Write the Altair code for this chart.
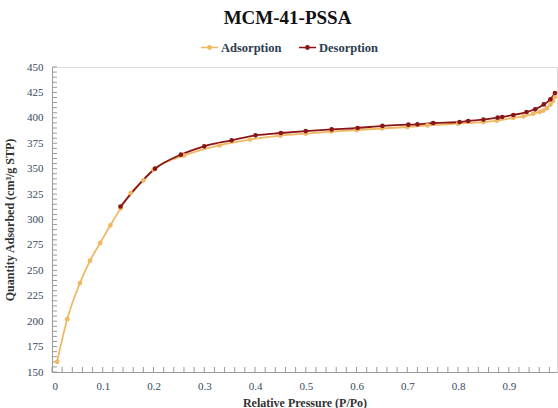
import altair as alt
import pandas as pd

ads_p = [0.01, 0.03, 0.055, 0.075, 0.095, 0.115, 0.135, 0.155, 0.18, 0.2, 0.26, 0.33, 0.39,
         0.45, 0.5, 0.55, 0.6, 0.65, 0.7, 0.74, 0.8, 0.85, 0.876, 0.909, 0.929, 0.948,
         0.961, 0.968, 0.975, 0.982, 0.987, 0.991]
ads_q = [160, 202, 237.5, 259.6, 277, 294.3, 310.7, 326, 338.5, 349, 363, 373, 378.6,
         382.5, 384.5, 386.5, 388, 389.5, 391, 392.5, 394.3, 395.8, 397.2, 400, 401.5, 404,
         405.8, 407, 409.5, 413, 416.5, 420.5]

des_p = [0.135, 0.203, 0.254, 0.30, 0.354, 0.401, 0.451, 0.50, 0.551, 0.602, 0.651, 0.702,
         0.72, 0.751, 0.803, 0.82, 0.85, 0.878, 0.887, 0.909, 0.935, 0.952, 0.969, 0.982, 0.991]
des_q = [312.8, 350, 363.8, 372, 377.9, 382.8, 385.1, 387, 388.6, 390, 392, 393.3,
         393.6, 394.9, 395.9, 396.9, 398.3, 400.2, 400.8, 402.8, 405.7, 408.4, 413.2, 418.2, 424.4]

series = ["Adsorption", "Desorption"]
colors = ["#F0B862", "#8B1515"]

major_x = [0, 0.1, 0.2, 0.3, 0.4, 0.5, 0.6, 0.7, 0.8, 0.9]
minor_x = [round(i * 0.02, 2) for i in range(50)]
major_y = list(range(150, 451, 25))
minor_y = list(range(150, 451, 5))

df = pd.concat([
    pd.DataFrame({"P": ads_p, "Q": ads_q, "Series": series[0], "order": range(len(ads_p))}),
    pd.DataFrame({"P": des_p, "Q": des_q, "Series": series[1], "order": range(len(des_p))}),
])
xt = pd.DataFrame({"v": minor_x, "base": 150})
yt = pd.DataFrame({"v": minor_y, "base": 0})

FONT = "Liberation Serif"
LABEL_COLOR = "#34495e"
AX_COLOR = "#9a9a9a"

xscale = alt.Scale(domain=[0, 0.995], nice=False, zero=False)
yscale = alt.Scale(domain=[150, 450], nice=False, zero=False)

color = alt.Color(
    "Series:N",
    scale=alt.Scale(domain=series, range=colors),
    legend=alt.Legend(
        title=None, orient="none", direction="horizontal", legendX=148, legendY=-29,
        symbolType="M-1,0L1,0M-0.2,0A0.2,0.2 0 1,1 0.2,0A0.2,0.2 0 1,1 -0.2,0",
        symbolSize=290, symbolStrokeWidth=1.5, labelFont=FONT, labelFontSize=12.5,
        labelFontWeight="bold", labelColor="#2c3e50", columnPadding=13, labelOffset=2,
    ),
)

x_axis = alt.Axis(
    values=major_x, labelExpr="datum.value == 0 ? '0' : format(datum.value, '.1f')",
    tickSize=0, labelPadding=8, grid=False, title="Relative Pressure (P/Po)",
    titleFont=FONT, titleFontSize=12, titleFontWeight="bold", titleColor="#333333",
    titlePadding=6, labelFont=FONT, labelFontSize=11, labelColor=LABEL_COLOR,
    domainColor=AX_COLOR, orient="bottom", labelOverlap=False)
y_axis = alt.Axis(
    values=major_y, tickSize=0, labelPadding=9, grid=False,
    title="Quantity Adsorbed (cm³/g STP)", titleFont=FONT, titleFontSize=12,
    titleFontWeight="bold", titleColor="#333333", titlePadding=10,
    labelFont=FONT, labelFontSize=11, labelColor=LABEL_COLOR,
    domainColor=AX_COLOR, orient="left", labelOverlap=False)

lines = alt.Chart(df).mark_line(interpolate="monotone", strokeWidth=1.8).encode(
    x=alt.X("P:Q", scale=xscale, axis=x_axis), y=alt.Y("Q:Q", scale=yscale, axis=y_axis),
    color=color, order="order:Q")
points = alt.Chart(df).mark_point(filled=True, size=22, opacity=1).encode(
    x=alt.X("P:Q", scale=xscale, axis=x_axis), y=alt.Y("Q:Q", scale=yscale, axis=y_axis),
    color=color)

xticks = alt.Chart(xt).mark_tick(orient="vertical", size=5, thickness=1, color=AX_COLOR,
                                 yOffset=-2.5, opacity=1).encode(
    x=alt.X("v:Q", scale=xscale, axis=x_axis), y=alt.Y("base:Q", scale=yscale, axis=y_axis))
yticks = alt.Chart(yt).mark_tick(orient="horizontal", size=5, thickness=1, color=AX_COLOR,
                                 xOffset=2.5, opacity=1).encode(
    y=alt.Y("v:Q", scale=yscale, axis=y_axis), x=alt.X("base:Q", scale=xscale, axis=x_axis))

chart = alt.layer(xticks, yticks, lines, points).properties(
    width=505, height=305,
    autosize=alt.AutoSizeParams(type="none"),
    padding={"left": 52, "top": 67, "right": 1, "bottom": 36},
    title=alt.TitleParams("MCM-41-PSSA", font=FONT, fontSize=19, fontWeight="bold",
                          color="#111111", anchor="middle", dx=-17, offset=10),
).configure_view(stroke=AX_COLOR, strokeWidth=1).configure(background="white")

chart.save("out.html", embed_options={"renderer": "svg", "actions": False})
